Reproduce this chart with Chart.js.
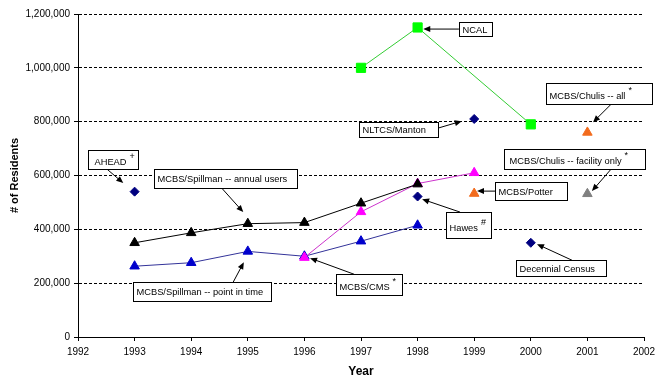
<!DOCTYPE html>
<html>
<head>
<meta charset="utf-8">
<script src="https://cdn.jsdelivr.net/npm/chart.js@4.4.1/dist/chart.umd.min.js"></script>
<style>
html,body{margin:0;padding:0;background:#fff;}
canvas{display:block;}
</style>
</head>
<body>
<canvas id="c" width="662" height="384"></canvas>
<script>
// ---- Data ----
const yTicks = [0, 200000, 400000, 600000, 800000, 1000000, 1200000];
const xTicks = [1992, 1993, 1994, 1995, 1996, 1997, 1998, 1999, 2000, 2001, 2002];

const spillmanAnnualYears = [1993, 1994, 1995, 1996, 1997, 1998];
const spillmanAnnualValues = [350000, 387000, 421000, 425000, 497000, 568000];

const spillmanPitYears = [1993, 1994, 1995, 1996, 1997, 1998];
const spillmanPitValues = [263000, 276000, 318000, 300000, 356000, 415000];

const cmsYears = [1996, 1997, 1998, 1999];
const cmsValues = [295000, 465000, 570000, 610000];

const ncalYears = [1997, 1998, 2000];
const ncalValues = [1000000, 1150000, 790000];

const aheadYears = [1993];       const aheadValues = [540000];
const hawesYears = [1998];       const hawesValues = [522000];
const mantonYears = [1999];      const mantonValues = [810000];
const censusYears = [2000];      const censusValues = [350000];
const potterYears = [1999];      const potterValues = [533000];
const chulisAllYears = [2001];   const chulisAllValues = [760000];
const chulisFacYears = [2001];   const chulisFacValues = [532000];

function pts(xs, ys) { return xs.map((x, i) => ({x: x, y: ys[i]})); }

// ---- Annotation callouts (positions in data units) ----
const callouts = [
  {text: 'AHEAD', sup: '+', box: [1992.18, 694000, 1993.06, 624000], from: [1992.51, 624000], to: [1992.80, 572000], pad: 6},
  {text: 'MCBS/Spillman -- annual users', box: [1993.34, 624000, 1995.87, 553000], from: [1994.54, 553000], to: [1994.92, 464000]},
  {text: 'MCBS/Spillman -- point in time', box: [1992.97, 203000, 1995.41, 132000], from: [1994.74, 203000], to: [1994.93, 278000]},
  {text: 'NLTCS/Manton', box: [1996.96, 798000, 1998.36, 743000], from: [1998.36, 776000], to: [1998.78, 802000]},
  {text: 'NCAL', box: [1998.73, 1170000, 1999.31, 1118000], from: [1998.73, 1144000], to: [1998.10, 1144000]},
  {text: 'MCBS/Chulis -- all', sup: '*', box: [2000.27, 943000, 2002.14, 865000], from: [2001.42, 865000], to: [2001.10, 798000]},
  {text: 'MCBS/Chulis -- facility only', sup: '*', box: [1999.53, 698000, 2002.02, 624000], from: [2001.42, 624000], to: [2001.08, 542000], pad: 5},
  {text: 'MCBS/Potter', box: [1999.37, 575000, 2000.64, 508000], from: [1999.37, 542000], to: [1999.05, 542000]},
  {text: 'Hawes', sup: '#', box: [1998.50, 464000, 1999.30, 367000], from: [1998.75, 464000], to: [1998.08, 512000]},
  {text: 'Decennial Census', box: [1999.74, 285000, 2001.33, 226000], from: [2000.73, 285000], to: [2000.11, 345000]},
  {text: 'MCBS/CMS', sup: '*', box: [1996.56, 233000, 1997.72, 155000], from: [1996.88, 233000], to: [1996.10, 293000]}
];

const FONT = 'Arial, "Liberation Sans", sans-serif';

const calloutPlugin = {
  id: 'callouts',
  afterDatasetsDraw(chart) {
    const ctx = chart.ctx;
    const xs = chart.scales.x, ys = chart.scales.y;
    ctx.save();
    callouts.forEach(c => {
      const x1 = Math.round(xs.getPixelForValue(c.box[0])) + 0.5;
      const y1 = Math.round(ys.getPixelForValue(c.box[1])) + 0.5;
      const x2 = Math.round(xs.getPixelForValue(c.box[2])) + 0.5;
      const y2 = Math.round(ys.getPixelForValue(c.box[3])) + 0.5;
      // arrow
      const ax = xs.getPixelForValue(c.from[0]), ay = ys.getPixelForValue(c.from[1]);
      const bx = xs.getPixelForValue(c.to[0]), by = ys.getPixelForValue(c.to[1]);
      const ang = Math.atan2(by - ay, bx - ax);
      const hl = 7, hw = 3;
      ctx.strokeStyle = '#000';
      ctx.fillStyle = '#000';
      ctx.lineWidth = 1;
      ctx.beginPath();
      ctx.moveTo(ax, ay);
      ctx.lineTo(bx - Math.cos(ang) * (hl - 1), by - Math.sin(ang) * (hl - 1));
      ctx.stroke();
      ctx.beginPath();
      ctx.moveTo(bx, by);
      ctx.lineTo(bx - Math.cos(ang) * hl - Math.sin(ang) * hw, by - Math.sin(ang) * hl + Math.cos(ang) * hw);
      ctx.lineTo(bx - Math.cos(ang) * hl + Math.sin(ang) * hw, by - Math.sin(ang) * hl - Math.cos(ang) * hw);
      ctx.closePath();
      ctx.fill();
      // box
      ctx.fillStyle = '#fff';
      ctx.fillRect(x1, y1, x2 - x1, y2 - y1);
      ctx.strokeRect(x1, y1, x2 - x1, y2 - y1);
      // text
      ctx.fillStyle = '#000';
      ctx.font = '9.3px ' + FONT;
      ctx.textBaseline = 'middle';
      ctx.textAlign = 'left';
      const h = y2 - y1;
      const ty = c.sup ? y2 - h * 0.38 : (y1 + y2) / 2 + 0.5;
      const tx = x1 + (c.pad || 3);
      ctx.fillText(c.text, tx, ty);
      if (c.sup) {
        const w = ctx.measureText(c.text).width;
        ctx.font = '9px ' + FONT;
        ctx.fillText(c.sup, tx + w + 3, ty - 6);
      }
    });
    ctx.restore();
  }
};

const navy = '#000080';

new Chart(document.getElementById('c'), {
  type: 'line',
  data: {
    datasets: [
      {label: 'MCBS/Spillman -- annual users', data: pts(spillmanAnnualYears, spillmanAnnualValues),
       borderColor: '#000', backgroundColor: '#000', pointStyle: 'triangle', pointRadius: 5.5, pointBorderColor: '#000', borderWidth: 1},
      {label: 'MCBS/CMS', data: pts(cmsYears, cmsValues),
       borderColor: '#CC33CC', backgroundColor: '#FF00FF', pointStyle: 'triangle', pointRadius: 5.5, pointBorderColor: '#FF00FF', borderWidth: 1},
      {label: 'MCBS/Spillman -- point in time', data: pts(spillmanPitYears, spillmanPitValues),
       borderColor: '#333399', backgroundColor: '#0000CC', pointStyle: 'triangle', pointRadius: 5.5, pointBorderColor: '#0000CC', borderWidth: 1},
      {label: 'NCAL', data: pts(ncalYears, ncalValues),
       borderColor: '#33CC33', backgroundColor: '#00FF00', pointStyle: 'rect', pointRadius: 6.5, pointBorderColor: '#00FF00', borderWidth: 1},
      {label: 'AHEAD', data: pts(aheadYears, aheadValues), showLine: false,
       backgroundColor: navy, borderColor: navy, pointStyle: 'rectRot', pointRadius: 4.5},
      {label: 'Hawes', data: pts(hawesYears, hawesValues), showLine: false,
       backgroundColor: navy, borderColor: navy, pointStyle: 'rectRot', pointRadius: 4.5},
      {label: 'NLTCS/Manton', data: pts(mantonYears, mantonValues), showLine: false,
       backgroundColor: navy, borderColor: navy, pointStyle: 'rectRot', pointRadius: 4.5},
      {label: 'Decennial Census', data: pts(censusYears, censusValues), showLine: false,
       backgroundColor: navy, borderColor: navy, pointStyle: 'rectRot', pointRadius: 4.5},
      {label: 'MCBS/Potter', data: pts(potterYears, potterValues), showLine: false,
       backgroundColor: '#F26B1D', borderColor: '#F26B1D', pointStyle: 'triangle', pointRadius: 5.5},
      {label: 'MCBS/Chulis -- all', data: pts(chulisAllYears, chulisAllValues), showLine: false,
       backgroundColor: '#F26B1D', borderColor: '#F26B1D', pointStyle: 'triangle', pointRadius: 5.5},
      {label: 'MCBS/Chulis -- facility only', data: pts(chulisFacYears, chulisFacValues), showLine: false,
       backgroundColor: '#808080', borderColor: '#808080', pointStyle: 'triangle', pointRadius: 5.5}
    ]
  },
  options: {
    responsive: false,
    animation: false,
    devicePixelRatio: 1,
    layout: {padding: {left: 0, right: 18, top: 14, bottom: 0}},
    elements: {line: {tension: 0, fill: false}, point: {borderWidth: 1, hoverRadius: 5}},
    plugins: {legend: {display: false}, tooltip: {enabled: false}},
    scales: {
      x: {
        type: 'linear', min: 1992, max: 2002,
        afterBuildTicks: s => { s.ticks = xTicks.map(v => ({value: v})); },
        afterFit: s => { s.height = 47; },
        grid: {drawOnChartArea: false, drawTicks: true, tickLength: 4, tickColor: '#000'},
        border: {display: true, color: '#000', width: 1},
        ticks: {color: '#000', font: {family: FONT, size: 10}, padding: 5, maxRotation: 0,
                callback: v => String(v)},
        title: {display: true, text: 'Year', color: '#000', font: {family: FONT, size: 12, weight: 'bold'},
                padding: {top: 0, bottom: 5}}
      },
      y: {
        min: 0, max: 1200000,
        afterBuildTicks: s => { s.ticks = yTicks.map(v => ({value: v})); },
        afterFit: s => { s.width = 78; },
        grid: {color: '#000', lineWidth: 1, tickLength: 4, tickColor: '#000', tickBorderDash: []},
        border: {display: true, color: '#000', width: 1, dash: [3, 2]},
        ticks: {color: '#000', font: {family: FONT, size: 10}, padding: 4,
                callback: v => v.toLocaleString('en-US')},
        title: {display: true, text: '# of Residents', color: '#000', font: {family: FONT, size: 11, weight: 'bold'},
                padding: {top: 8, bottom: 0}}
      }
    }
  },
  plugins: [calloutPlugin]
});
</script>
</body>
</html>
